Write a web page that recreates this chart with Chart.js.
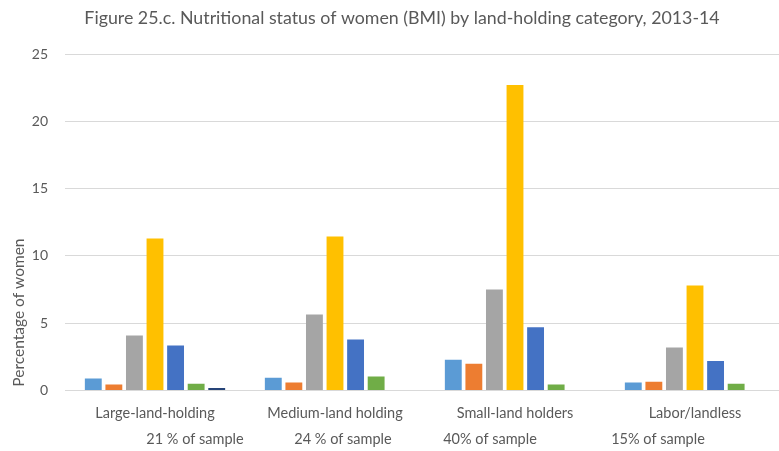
<!DOCTYPE html>
<html>
<head>
<meta charset="utf-8">
<script src="https://cdn.jsdelivr.net/npm/chart.js@4.4.1/dist/chart.umd.min.js"></script>
<style>
  html, body { margin: 0; padding: 0; background: #fff; overflow: hidden; }
  #wrap { width: 786px; height: 451px; }
</style>
</head>
<body>
<div id="wrap"><canvas id="chart" width="786" height="451"></canvas></div>
<script>
// land-holding categories
var categories = ["Large-land-holding", "Medium-land holding", "Small-land holders", "Labor/landless"];
var sampleShares = ["21 % of sample", "24 % of sample", "40% of sample", "15% of sample"];
var chartTitle = "Figure 25.c. Nutritional status of women (BMI) by land-holding category, 2013-14";

// one array per BMI series (values in % of women)
var series1 = [0.9, 0.95, 2.3, 0.6];
var series2 = [0.45, 0.6, 2.0, 0.65];
var series3 = [4.1, 5.65, 7.5, 3.2];
var series4 = [11.3, 11.45, 22.7, 7.8];
var series5 = [3.35, 3.8, 4.7, 2.2];
var series6 = [0.5, 1.05, 0.45, 0.5];
var series7 = [0.2, 0, 0, 0];

var yTicks = [0, 5, 10, 15, 20, 25];

var colors = ["#5B9BD5", "#ED7D31", "#A5A5A5", "#FFC000", "#4472C4", "#70AD47", "#264478"];
var allSeries = [series1, series2, series3, series4, series5, series6, series7];

var textColor = "#595959";
var fontFamily = "Lato, 'Open Sans', sans-serif";

var datasets = allSeries.map(function (vals, i) {
  return {
    label: "Series " + (i + 1),
    data: vals,
    backgroundColor: colors[i],
    categoryPercentage: 0.8,
    barPercentage: 0.82,
  };
});

// extra texts: title, shifted y-axis title and "% of sample" row
var extraText = {
  id: "extraText",
  afterDraw: function (chart) {
    var ctx = chart.ctx;
    var area = chart.chartArea;
    var x = chart.scales.x;
    var offsets = [40, 8, -25, -37];
    ctx.save();
    ctx.fillStyle = textColor;
    ctx.textAlign = "center";
    ctx.textBaseline = "middle";
    ctx.font = "17.8px " + fontFamily;
    ctx.fillText(chartTitle, 402, 18);
    ctx.font = "14.5px " + fontFamily;
    sampleShares.forEach(function (s, i) {
      ctx.fillText(s, x.getPixelForValue(i) + offsets[i], area.bottom + 49);
    });
    ctx.font = "15.5px " + fontFamily;
    ctx.translate(19, area.bottom - 78);
    ctx.rotate(-Math.PI / 2);
    ctx.fillText("Percentage of women", 0, 0);
    ctx.restore();
  },
};

new Chart(document.getElementById("chart"), {
  type: "bar",
  data: { labels: categories, datasets: datasets },
  options: {
    responsive: false,
    animation: false,
    layout: { padding: { left: 0, right: 1, top: 54, bottom: 23 } },
    plugins: {
      legend: { display: false },
      tooltip: { enabled: false },
      title: { display: false },
    },
    scales: {
      x: {
        grid: { display: false },
        border: { color: "#D9D9D9" },
        ticks: {
          color: textColor,
          font: { family: fontFamily, size: 14.5 },
          padding: 6,
        },
      },
      y: {
        min: 0,
        max: 25,
        afterBuildTicks: function (axis) {
          axis.ticks = yTicks.map(function (v) { return { value: v }; });
        },
        afterFit: function (axis) { axis.width = 65; },
        grid: { color: "#D9D9D9", drawTicks: false },
        border: { display: false },
        ticks: {
          color: textColor,
          font: { family: fontFamily, size: 14 },
          padding: 17,
        },
      },
    },
  },
  plugins: [extraText],
});
</script>
</body>
</html>
